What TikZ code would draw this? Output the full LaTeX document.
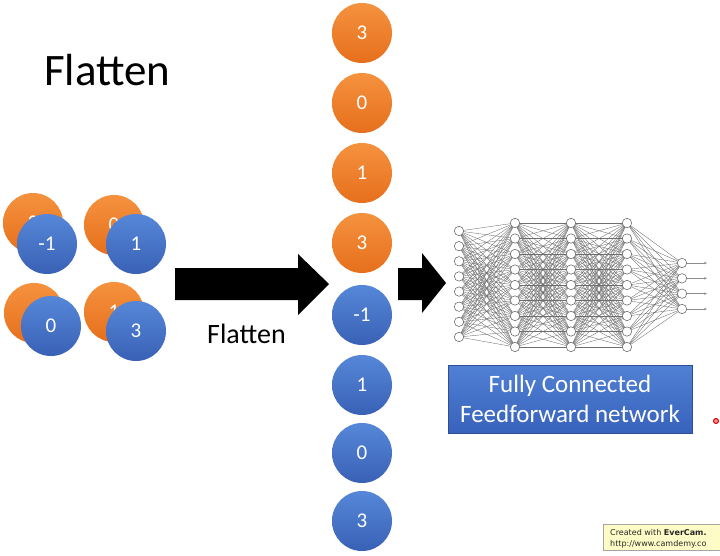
\documentclass[tikz,border=0pt]{standalone}
\usepackage{fontspec}
\setmainfont{Carlito}
\newfontfamily\wmfont{DejaVu Sans}
\usetikzlibrary{arrows.meta}
\pgfdeclarelayer{bg}
\pgfsetlayers{bg,main}
\definecolor{orgtop}{HTML}{F5923E}
\definecolor{orgbot}{HTML}{E66F1C}
\definecolor{blutop}{HTML}{5687D8}
\definecolor{blubot}{HTML}{3961B5}
\definecolor{boxtop}{HTML}{5080D4}
\definecolor{boxbot}{HTML}{3862BC}
\definecolor{edgegray}{HTML}{6E6E6E}
\definecolor{wmyellow}{HTML}{FDFBC6}
\tikzset{
  ball/.style={circle, minimum size=60pt, inner sep=0pt, text=white,
    font=\fontsize{21}{21}\selectfont},
  orangeball/.style={ball, top color=orgtop, bottom color=orgbot},
  blueball/.style={ball, top color=blutop, bottom color=blubot},
  nn/.style={circle, draw=black!60, fill=white, line width=0.55pt, minimum size=9.4pt, inner sep=0pt},
  nnedge/.style={draw=edgegray, line width=0.35pt},
  bigarrow/.style={fill=black},
}
\begin{document}
\begin{tikzpicture}[x=1pt,y=-1pt]
\useasboundingbox (0,0) rectangle (720,555);
\begin{pgfonlayer}{bg}
\fill[white] (0,0) rectangle (720,555);
\end{pgfonlayer}

% title
\node[anchor=base west, inner sep=0pt, font=\fontsize{45}{45}\selectfont] (title) at (44,85) {Flatten};

% left feature maps
\node[orangeball] (o1) at (33,223) {3};
\node[blueball] (b1) at (47,244) {-1};
\node[orangeball] (o2) at (114,225) {0};
\node[blueball] (b2) at (136,244) {1};
\node[orangeball] (o3) at (34,313) {};
\node[blueball] (b3) at (51,326) {0};
\node[orangeball] (o4) at (114,312) {1};
\node[blueball] (b4) at (136,331) {3};

% big arrow
\fill[bigarrow] (175,268) -- (298,268) -- (298,254) -- (329,284) -- (298,315) -- (298,300) -- (175,300) -- cycle;
\node[anchor=base west, inner sep=0pt, font=\fontsize{28}{28}\selectfont] (flab) at (207,343) {Flatten};

% flattened column
\node[orangeball] (f1) at (362,33) {3};
\node[orangeball] (f2) at (362,103) {0};
\node[orangeball] (f3) at (362,173) {1};
\node[orangeball] (f4) at (362,243) {3};
\node[blueball] (f5) at (362,315) {-1};
\node[blueball] (f6) at (362,385) {1};
\node[blueball] (f7) at (362,453) {0};
\node[blueball] (f8) at (362,521) {3};

% small arrow
\fill[bigarrow] (398,268) -- (422,268) -- (422,253) -- (446,283) -- (422,313) -- (422,300) -- (398,300) -- cycle;

% network nodes
\foreach \i in {1,...,8} \node[nn] (na\i) at (459,{231+(\i-1)*15.14}) {};
\foreach \i in {1,...,9} {
  \node[nn] (nb\i) at (515,{223+(\i-1)*15.5}) {};
  \node[nn] (nc\i) at (571,{223+(\i-1)*15.5}) {};
  \node[nn] (nd\i) at (627,{223+(\i-1)*15.5}) {};
}
\foreach \i in {1,...,4} {
  \node[nn] (ne\i) at (682,{263+(\i-1)*15.33}) {};
  \coordinate (out\i) at (707,{263+(\i-1)*15.33});
}
\begin{pgfonlayer}{bg}
\foreach \i in {1,...,8} \foreach \j in {1,...,9} \draw[nnedge] (na\i.center) -- (nb\j.center);
\foreach \i in {1,...,9} \foreach \j in {1,...,9} {
  \draw[nnedge] (nb\i.center) -- (nc\j.center);
  \draw[nnedge] (nc\i.center) -- (nd\j.center);
}
\foreach \i in {1,...,9} \foreach \j in {1,...,4} \draw[nnedge] (nd\i.center) -- (ne\j.center);
\end{pgfonlayer}
\foreach \i in {1,...,4} \draw[draw=black!45, line width=0.6pt, -{Stealth[length=3pt,width=2.5pt]}] (ne\i.east) -- (out\i);

% label box
\node[draw=boxbot!80!black, line width=0.4pt, top color=boxtop, bottom color=boxbot,
  minimum width=244pt, minimum height=68pt, inner sep=0pt, text=white, align=center,
  font=\fontsize{25}{30}\selectfont] (fcbox) at (570,399) {Fully Connected\\Feedforward network};

% red pointer dot
\node[circle, draw=red!85!black, fill=red!45, line width=1pt, minimum size=5pt, inner sep=0pt] (dot) at (716,421) {};

% watermark
\node[draw=black!35, fill=wmyellow, line width=0.5pt, anchor=north west, minimum width=125pt, minimum height=26pt, inner sep=0pt] (wm) at (603,524) {};
\node[anchor=base west, inner sep=0pt, font=\wmfont\fontsize{8}{8}\selectfont, text=black!85] (wm1) at (610,535) {Created with \textbf{EverCam.}};
\node[anchor=base west, inner sep=0pt, font=\wmfont\fontsize{8}{8}\selectfont, text=black!85] (wm2) at (610,546) {http://www.camdemy.co};
\end{tikzpicture}
\end{document}
